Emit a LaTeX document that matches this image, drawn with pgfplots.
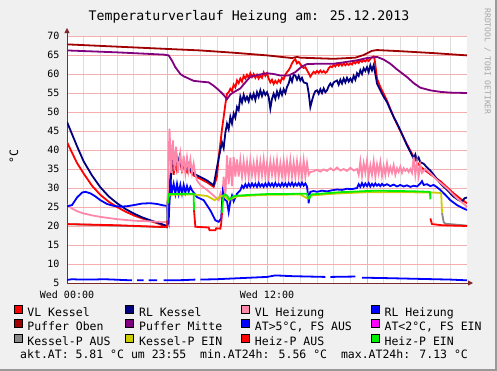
\documentclass[border=0pt]{standalone}
\usepackage{pgfplots}
\pgfplotsset{compat=1.18}
\usepackage{fontspec}
\setmainfont{DejaVu Sans Mono}
\usetikzlibrary{arrows.meta}
\definecolor{bg}{HTML}{F0F0F0}
\definecolor{cVLK}{HTML}{FF0000}
\definecolor{cRLK}{HTML}{000080}
\definecolor{cVLH}{HTML}{FF88AA}
\definecolor{cRLH}{HTML}{0000FF}
\definecolor{cPO}{HTML}{A00000}
\definecolor{cPM}{HTML}{800080}
\definecolor{cAT}{HTML}{0000FF}
\definecolor{cATm}{HTML}{FF00FF}
\definecolor{cKA}{HTML}{888888}
\definecolor{cKE}{HTML}{CCCC00}
\definecolor{cHA}{HTML}{FF0000}
\definecolor{cHE}{HTML}{00EE00}
\definecolor{gridred}{HTML}{F4B0B0}
\definecolor{gridgrey}{HTML}{DDDDDD}
\definecolor{axiscol}{HTML}{7F2A2A}
\newcommand{\pad}{\hspace*{4pt}}
\begin{document}
\begin{tikzpicture}
\useasboundingbox (0pt,0pt) rectangle (497pt,-371pt);
\fill[bg] (0pt,0pt) rectangle (497pt,-371pt);
\draw[black!40, line width=2pt] (496pt,0pt) -- (496pt,-370pt) -- (0pt,-370pt);
\node[anchor=base, font=\fontsize{13.2}{14}\selectfont] at (249pt,-20.7pt) {Temperaturverlauf Heizung am: 25.12.2013};
\node[rotate=90, font=\fontsize{11.5}{12}\selectfont] at (14pt,-156.5pt) {°C};
\node[rotate=-90, anchor=west, font=\fontsize{8}{8}\selectfont, text=black!35] at (487.5pt,-5pt) {RRDTOOL / TOBI OETIKER};
\node[anchor=base west, font=\fontsize{11.5}{12}\selectfont] at (16.7pt,-358pt) {akt.AT: 5.81 °C um 23:55\ \ min.AT24h: 5.56 °C\ \ max.AT24h: 7.13 °C};
\begin{axis}[
  at={(67pt,-283pt)}, anchor=south west,
  scale only axis, width=400pt, height=247pt,
  xmin=0, xmax=24, ymin=5, ymax=70,
  axis x line=bottom, axis y line=left,
  axis line style={draw=axiscol, line width=0.8pt},
  x axis line style={-{Triangle[length=5pt,width=5pt]}, shorten >=-6pt},
  y axis line style={-{Triangle[length=5pt,width=5pt]}, shorten >=-8pt},
  axis background/.style={fill=white},
  xtick={0,6,12,18}, xticklabels={Wed 00:00,,Wed 12:00,},
  minor xtick={1,2,3,4,5,7,8,9,10,11,13,14,15,16,17,19,20,21,22,23},
  ytick={5,10,...,70},
  xmajorgrids, ymajorgrids, xminorgrids,
  major grid style={draw=gridred, line width=0.7pt},
  minor grid style={draw=gridgrey, line width=0.7pt},
  tick style={draw=none},
  /pgf/number format/assume math mode=true,
  ticklabel style={font=\fontsize{10}{12}\selectfont},
  yticklabel style={anchor=east, xshift=-2pt},
  xticklabel style={anchor=north, yshift=-2pt},
  unbounded coords=jump,
  legend image code/.code={\filldraw[#1, draw=black, line width=0.7pt] (0pt,0pt) rectangle (8pt,8pt);},
  legend columns=4,
  legend cell align=left,
  legend style={at={(0,0)}, anchor=north west, xshift=-53.5pt, yshift=-21.5pt,
    draw=none, fill=none, inner sep=0pt, row sep=0.9pt, column sep=5pt,
    font=\fontsize{11.5}{12}\selectfont,
    nodes={inner sep=0pt, text height=8.5pt, text depth=2pt},
    /tikz/every even column/.append style={column sep=15pt}},
]
\addlegendimage{fill=cVLK}\addlegendentry{VL Kessel}
\addlegendimage{fill=cRLK}\addlegendentry{RL Kessel\pad}
\addlegendimage{fill=cVLH}\addlegendentry{VL Heizung\pad}
\addlegendimage{fill=cRLH}\addlegendentry{RL Heizung}
\addlegendimage{fill=cPO}\addlegendentry{Puffer Oben}
\addlegendimage{fill=cPM}\addlegendentry{Puffer Mitte\pad}
\addlegendimage{fill=cAT}\addlegendentry{AT>5°C, FS AUS\pad}
\addlegendimage{fill=cATm}\addlegendentry{AT<2°C, FS EIN}
\addlegendimage{fill=cKA}\addlegendentry{Kessel-P AUS}
\addlegendimage{fill=cKE}\addlegendentry{Kessel-P EIN\pad}
\addlegendimage{fill=cHA}\addlegendentry{Heiz-P AUS\pad}
\addlegendimage{fill=cHE}\addlegendentry{Heiz-P EIN}

% VL Kessel
\addplot[cVLK, line width=1.8pt, forget plot] coordinates {
(0,42.1)(0.3,39.3)(0.6,36.6)(1,33.8)(1.5,30.6)(2,28.2)(2.5,26.4)(3,25.0)(3.5,23.8)(4,22.8)(4.5,22.0)(5,21.3)(5.5,20.6)(6,19.7)
(6.05,21)(6.15,30)(6.3,39.5)(6.4,33.5)(6.5,38)(6.6,34.8)(6.75,37.5)(6.9,34.5)(7.0,36)(7.2,34.2)(7.3,35.8)(7.45,34)(7.6,33.3)(8,32.4)(8.4,31.5)(8.8,30.3)
(9.0,33)(9.1,38)(9.2,41.7)(9.3,45.5)(9.4,48.7)(9.5,52)(9.6,54.8)(9.7,55.2)(9.8,56.1)(9.9,55.5)(10.0,57.2)(10.1,56.5)(10.2,58.3)(10.3,57.6)(10.4,58.8)(10.5,58.0)(10.6,59.5)(10.7,58.8)(10.8,59.8)(10.9,59.0)
(11.0,60.2)(11.1,59.2)(11.2,60.0)(11.3,59.0)(11.4,59.8)(11.5,58.8)(11.6,59.6)(11.7,59.0)(11.8,60.4)(11.9,59.5)(12.0,60.2)(12.1,58.8)(12.2,57.8)(12.3,58.5)(12.4,57.4)(12.5,58.2)(12.6,57.6)(12.7,58.4)(12.8,57.8)(12.9,59.0)
(13.0,58.6)(13.1,59.8)(13.2,60.5)(13.3,61.0)(13.4,61.8)(13.5,62.8)(13.6,63.5)(13.7,63.9)(13.8,62.8)(13.9,63.2)(14.0,62.6)(14.1,62.0)(14.2,61.6)(14.3,61.8)(14.4,61.0)(14.5,60.2)(14.6,59.3)(14.7,60.0)(14.8,60.6)(14.9,60.2)
(15.0,60.8)(15.1,60.3)(15.2,60.9)(15.3,60.4)(15.4,60.8)(15.5,60.3)(15.6,60.6)(15.7,61.5)(15.8,62.0)(15.9,61.8)(16.0,62.4)(16.1,62.0)(16.2,62.7)(16.3,62.2)(16.4,62.8)(16.5,62.2)(16.6,62.8)(16.7,62.3)(16.8,62.7)(16.9,62.4)
(17.0,62.8)(17.1,62.5)(17.2,63.2)(17.3,62.8)(17.4,63.3)(17.5,62.9)(17.6,63.6)(17.7,63.2)(17.8,63.6)(17.9,63.3)(18.0,63.8)(18.1,63.4)(18.2,64.0)(18.3,64.4)(18.4,64.6)(18.45,64.0)(18.5,62.5)(18.6,58.8)(18.8,56.6)
(19.0,54.8)(19.2,53.0)(19.4,50.8)(19.6,48.7)(19.8,46.8)(20.0,45.0)(20.2,43.2)(20.4,41.5)(20.6,39.8)(20.8,38.2)(21.0,36.8)(21.2,35.6)(21.5,34.6)(21.8,33.6)(22.0,33.0)(22.4,31.8)(22.8,30.2)(23.2,28.6)(23.6,27.2)(24,26.0)
};
% RL Kessel
\addplot[cRLK, line width=1.8pt, forget plot] coordinates {
(0,47.4)(0.3,44.2)(0.6,41.0)(1,37)(1.5,33.3)(2,30.2)(2.5,27.8)(3,26.0)(3.5,24.5)(4,23.3)(4.5,22.3)(5,21.5)(5.5,20.8)(6,20.0)
(6.05,22)(6.2,30)(6.35,41.2)(6.45,34.6)(6.55,39)(6.65,36)(6.75,38.2)(6.9,35)(7.0,36.5)(7.1,34.8)(7.3,36.4)(7.45,34.5)(7.6,33.8)(8,32.9)(8.4,32.0)(8.8,30.7)
(9.0,35.5)(9.2,40)(9.3,42)(9.4,40.5)(9.5,44.5)(9.6,46.9)(9.7,45.5)(9.8,48.7)(9.9,47)(10,49.6)(10.1,48.5)(10.2,51.3)(10.3,50.5)(10.4,54)(10.5,52.5)(10.6,54.5)(10.7,53)(10.8,54)(10.9,52.8)
(11.0,54.6)(11.1,53.5)(11.2,54.8)(11.3,53.2)(11.4,55.2)(11.5,54)(11.6,55.7)(11.7,54.2)(11.8,55.5)(11.9,54.5)(12,55.2)(12.1,54)(12.2,50.9)(12.3,53.5)(12.4,54.8)(12.5,53.5)(12.6,55.4)(12.7,54)(12.8,55.8)(12.9,54.5)
(13,56)(13.1,55)(13.2,56.6)(13.3,57.5)(13.4,59.2)(13.5,58)(13.6,59.8)(13.7,59.6)(13.8,58.5)(13.9,59.5)(14.0,58.3)(14.1,59)(14.2,57.8)(14.4,57.5)(14.5,55)(14.6,51.3)(14.7,53)(14.8,54.5)(14.9,55.5)
(15,55.7)(15.1,54.8)(15.2,56)(15.3,55)(15.4,56.2)(15.5,55.2)(15.6,55.7)(15.7,56.8)(15.8,57.5)(15.9,56.8)(16,57.8)(16.2,58.3)(16.3,57.2)(16.4,58.5)(16.5,57.5)(16.6,58.8)(16.7,57.8)(16.8,59)(16.9,58)
(17,58.8)(17.1,58)(17.2,59.5)(17.3,58.5)(17.4,60.2)(17.5,59.5)(17.6,61)(17.7,60)(17.8,61.5)(17.9,60.8)(18,61.8)(18.1,60.5)(18.2,62.3)(18.3,61)(18.4,62.3)(18.5,60)(18.6,57.5)(18.8,55.7)
(19,54)(19.2,52.6)(19.4,50.6)(19.6,48.7)(19.8,47)(20,45.2)(20.2,43.2)(20.4,41.2)(20.6,39.5)(20.8,37.7)(20.9,38.8)(21.0,37.2)(21.1,38)(21.2,36.8)(21.4,36.4)(21.6,35.4)(21.8,34.6)(22,33.5)(22.4,31.2)(22.8,29.5)(23.2,27.7)(23.5,26.8)(23.7,26.4)(23.85,27.3)(24,27.5)
};
% VL Heizung
\addplot[cVLH, line width=1.8pt, forget plot] coordinates {
(0,25.5)(0.3,24.6)(0.6,23.9)(1,23.3)(1.5,22.8)(2,22.4)(2.5,22.1)(3,21.8)(3.5,21.6)(4,21.4)(4.5,21.3)(5,21.2)(5.5,21.1)(6,21.0)
(6.05,30)(6.15,45.6)(6.25,34)(6.35,42.5)(6.45,34.5)(6.55,40.8)(6.65,34)(6.8,39.0)(6.9,34.2)(7.0,38.5)(7.1,34)(7.2,38)(7.3,34.5)(7.4,37.5)(7.5,34)(7.6,36.4)(7.7,33.5)(7.8,32.0)(8,30.8)(8.4,29.5)(8.8,28.0)(9.1,26.8)
(9.2,28.5)(9.3,26.5)(9.4,33)(9.5,27.5)(9.6,38.6)(9.7,31)(9.8,38)(9.9,30.5)(10,38.2)(10.1,33)(10.2,37.5)(10.3,33)
(10.4,37.3)(10.5,33.0)(10.6,37.0)(10.7,33.2)(10.8,36.8)(10.9,32.8)(11.0,37.2)(11.1,33.4)(11.2,36.5)(11.3,33.0)(11.4,37.0)(11.5,32.9)(11.6,36.9)(11.7,33.3)(11.8,37.4)(11.9,33.0)
(12.0,36.6)(12.1,32.8)(12.2,37.0)(12.3,33.5)(12.4,36.8)(12.5,33.0)(12.6,37.2)(12.7,32.9)(12.8,36.5)(12.9,33.2)(13.0,37.1)(13.1,32.8)(13.2,36.9)(13.3,33.1)(13.4,37.3)(13.5,33.0)(13.6,36.7)(13.7,32.9)(13.8,37.0)(13.9,33.3)
(14.0,36.8)(14.1,32.8)(14.2,37.2)(14.3,33.0)(14.4,36.6)(14.5,33.5)(14.6,34.2)(14.8,34.4)(15.0,34.8)(15.2,34.3)(15.4,34.9)(15.6,34.5)(15.8,35.2)(16.0,34.6)(16.2,35.4)(16.4,34.6)(16.6,35.0)(16.8,34.5)(17.0,35.3)(17.2,34.6)(17.4,35.0)
(17.5,33.5)(17.6,37.0)(17.7,33.2)(17.8,36.5)(17.9,34.0)(18.0,37.2)(18.1,33.0)(18.2,36.0)(18.3,33.5)(18.4,37.0)(18.5,33.0)(18.6,36.2)(18.7,33.8)(18.8,36.8)(18.9,33.2)(19.0,35.8)(19.1,33.5)(19.2,36.5)(19.3,33.8)(19.4,35.5)
(19.5,34.0)(19.6,36.0)(19.7,33.5)(19.8,35.2)(19.9,34.2)(20.0,35.6)(20.1,34.0)(20.2,35.2)(20.3,34.5)(20.4,35.0)(20.5,34.2)(20.6,35.0)(20.7,34.0)(20.8,38.2)(20.9,33.5)(21.0,36.8)(21.1,33.2)(21.2,36.0)(21.3,34.0)(21.5,35.0)
(21.8,33.9)(22.2,32.1)(22.8,29.9)(23.4,27.3)(24,25.1)
};
% RL Heizung
\addplot[cRLH, line width=1.8pt, forget plot] coordinates {
(0,25.2)(0.3,25.5)(0.6,27.5)(0.9,28.8)(1.1,29.0)(1.4,28.6)(1.7,27.8)(2,26.8)(2.4,25.8)(2.8,25.3)(3.2,25.1)(3.6,25.2)(4,25.5)(4.5,25.9)(5,26.0)(5.4,25.8)(5.8,25.4)(6,25.3)
(6.05,22)(6.1,21.1)(6.2,32)(6.3,29)(6.4,31.1)(6.5,28.5)(6.6,31.1)(6.7,28.5)(6.8,30.8)(6.9,28.5)(7.0,30.8)(7.1,28.8)(7.2,30.5)(7.3,29)(7.4,30.3)(7.5,29.4)(7.8,27.6)(8.2,26.8)(8.6,24.1)(8.9,21.5)(9.1,21.1)
(9.25,22)(9.3,25.9)(9.35,29)(9.45,27)(9.6,26.5)(9.7,23.7)(9.8,26.5)(9.9,28)(10.0,26.5)(10.2,28.5)
(10.4,29.4)(10.5,30.6)(10.6,30.0)(10.7,31.0)(10.8,30.2)(10.9,31.1)(11.0,30.3)(11.1,31.2)(11.2,30.4)(11.3,31.1)(11.4,30.3)(11.5,31.3)(11.6,30.4)(11.7,31.0)(11.8,30.3)(11.9,31.2)
(12.0,30.4)(12.1,31.3)(12.2,30.5)(12.3,31.2)(12.4,30.4)(12.5,31.3)(12.6,30.5)(12.7,31.1)(12.8,30.4)(12.9,31.3)(13.0,30.5)(13.1,31.2)(13.2,30.4)(13.3,31.3)(13.4,30.6)(13.5,31.4)(13.6,30.5)(13.7,31.2)(13.8,30.6)(13.9,31.3)
(14.0,30.5)(14.1,31.4)(14.2,30.6)(14.3,31.2)(14.4,30.4)(14.45,28.5)(14.5,26.0)(14.55,28.0)(14.6,29.0)(14.8,29.2)(15.0,29.0)(15.3,29.3)(15.6,29.1)(15.9,29.4)(16.2,29.6)(16.5,29.5)(16.8,29.8)(17.1,29.7)(17.4,30.0)
(17.5,31.0)(17.6,30.3)(17.7,31.3)(17.8,30.4)(17.9,31.2)(18.0,30.5)(18.1,31.3)(18.2,30.4)(18.3,31.1)(18.4,30.5)(18.5,31.2)(18.6,30.6)(18.7,31.0)(18.8,30.5)(18.9,31.1)(19.0,30.6)(19.2,31.0)(19.4,30.5)(19.6,30.9)(19.8,30.4)
(20.0,30.8)(20.2,30.4)(20.4,30.7)(20.6,30.3)(20.8,30.6)(21.0,30.4)(21.2,31.2)(21.3,31.8)(21.4,30.8)(21.6,31.0)(21.8,30.5)(22.0,30.8)(22.2,30.2)(22.4,29.5)(22.7,28.2)(23.0,26.8)(23.4,25.5)(23.7,24.8)(24,24.2)
};
% Puffer Oben
\addplot[cPO, line width=1.8pt, forget plot] coordinates {
(0,67.8)(3,67.2)(6,66.6)(8,66.2)(10,65.6)(12,64.9)(13.5,64.2)(13.8,64.5)(14,64.3)(16,64.0)(17.3,64.3)(17.8,65.0)(18.3,66.1)(18.6,66.3)(20,66.0)(22,65.5)(24,64.9)
};
% Puffer Mitte
\addplot[cPM, line width=1.8pt, forget plot] coordinates {
(0,66.2)(3,65.7)(5.8,65.1)(6.1,64.9)(6.3,63.5)(6.5,61.8)(6.8,60.0)(7.0,59.4)(7.3,58.8)(7.6,58.2)(8,58.0)(8.5,57.8)(8.8,56.9)(9.1,55.8)(9.4,54.5)(9.6,53.4)(9.8,54.6)(10,55.2)(10.4,56.2)(10.7,57.8)(11,59.3)(11.5,59.8)(12,60.2)
(12.4,60.0)(12.8,59.6)(13.3,59.6)(13.7,60.5)(14.1,62.0)(14.4,62.6)(15,62.7)(16,62.7)(16.8,63.2)(17.4,63.6)(18,64.2)(18.6,64.5)(19,63.8)(19.4,62.7)(19.8,61.2)(20.4,59.2)(20.8,57.6)(21.2,56.4)(21.8,55.7)(22.4,55.3)(23,55.1)(24,55.0)
};
% AT
\addplot[cAT, line width=1.8pt, forget plot] coordinates {
(0,5.8)(0.3,6.0)(0.8,5.9)(1.5,5.9)(2.2,6.0)(2.8,5.9)(3.3,5.8)(3.9,5.7)(4.05,nan)(4.2,5.7)(4.6,5.7)(4.75,nan)(4.9,5.7)(5.4,5.7)(5.6,nan)(5.8,5.7)(6.5,5.7)(7.2,5.8)(7.7,5.9)(7.85,nan)
(8.0,5.9)(9,6.0)(10,6.2)(11,6.4)(12,6.6)(12.5,7.0)(13.5,6.8)(14.5,6.7)(15.5,6.6)(15.65,nan)(15.8,6.6)(17.3,6.7)(17.5,nan)(17.7,6.4)(19,6.3)(20,6.2)(21,6.1)(22,6.0)(23,5.9)(24,5.7)
};
% Kessel-P AUS
\addplot[cKA, line width=1.8pt, forget plot] coordinates {
(0,20.5)(6,19.7)(6.02,26.5)(6.04,nan)(22.5,23.5)(22.6,21.0)(22.7,20.6)(24,20.1)
};
% Kessel-P EIN
\addplot[cKE, line width=1.8pt, forget plot] coordinates {
(6.02,26.5)(6.1,27.8)(6.2,28.2)(7.6,28.3)(8.0,28.1)(8.4,27.9)(8.7,27.2)(8.85,26.8)(9.0,27.2)(9.2,27.8)(9.35,28.0)(9.5,27.6)(9.7,26.8)(9.9,27.2)(10.2,27.8)(11,28.0)(12,28.2)(14,28.3)(14.45,27.2)(14.6,28.0)(16,28.5)(18,28.9)(20,28.9)(22,28.8)(22.45,28.7)(22.5,23.5)
};
% Heiz-P AUS
\addplot[cHA, line width=1.8pt, forget plot] coordinates {
(0,20.5)(3,20.2)(6,19.7)(6.03,21.5)(6.04,nan)(7.62,24.2)(7.7,19.8)(8.5,19.6)(8.55,18.9)(8.9,18.9)(8.95,19.4)(9.2,19.3)(9.25,20.6)(9.3,23.5)(9.32,nan)(21.8,22.0)(21.9,20.5)(22.5,20.2)(24,20.0)
};
% Heiz-P EIN
\addplot[cHE, line width=1.8pt, forget plot] coordinates {
(6.05,26.0)(6.12,28.4)(7.6,28.5)(7.62,24.2)(7.65,nan)(9.3,23.5)(9.38,27.8)(9.45,28.3)(9.6,28.0)(9.75,27.0)(9.85,27.3)(10.0,27.9)(10.3,28.0)(11,28.2)(12,28.4)(13,28.4)(14,28.5)(14.4,28.5)(14.45,27.5)(14.55,27.3)(14.65,28.3)(15.5,28.6)(16.4,28.9)(17.5,29.1)(18.5,29.3)(20,29.2)(21,29.1)(21.7,29.0)(21.78,28.9)(21.8,27.0)
};
\end{axis}
\end{tikzpicture}
\end{document}
